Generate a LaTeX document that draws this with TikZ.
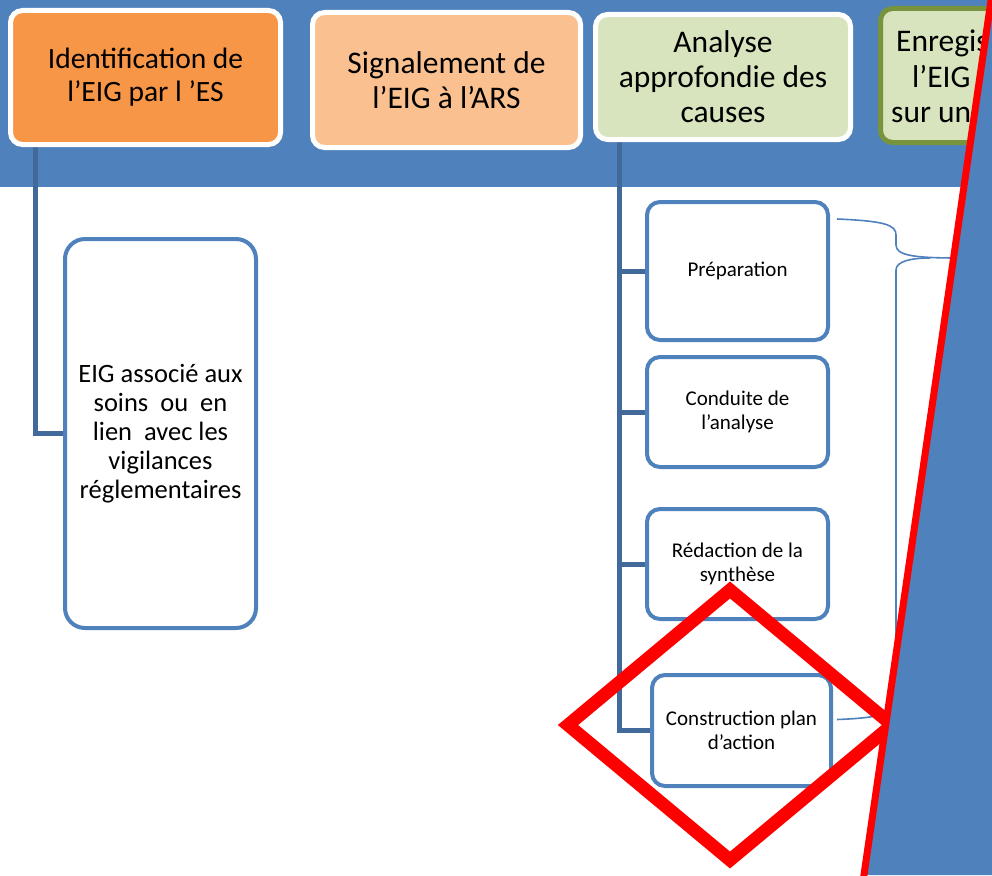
\documentclass[tikz,border=0pt]{standalone}
\usepackage{fontspec}
\setmainfont{Carlito}
\usetikzlibrary{calc,backgrounds}
\definecolor{band}{HTML}{4F81BD}
\definecolor{connc}{HTML}{41699A}
\definecolor{orangeA}{HTML}{F79646}
\definecolor{orangeB}{HTML}{FAC090}
\definecolor{greenA}{HTML}{D7E4BD}
\definecolor{olive}{HTML}{77933C}
\tikzset{
  topbox/.style={draw=white, line width=5pt, rounded corners=12pt, inner sep=0pt, align=center, font=\fontsize{31.5}{35}\selectfont},
  stepbox/.style={draw=band, line width=4pt, fill=white, rounded corners=13pt, inner sep=0pt, align=center, font=\fontsize{21}{24}\selectfont, minimum width=181pt},
  link/.style={draw=connc, line width=5pt},
  brace/.style={draw=band, line width=1.6pt},
  redmark/.style={draw=red, line width=13pt},
  toptext/.style={anchor=base west, inner sep=0pt, font=\fontsize{31.5}{35}\selectfont}
}
\begin{document}
\begin{tikzpicture}[x=1pt,y=-1pt]
\useasboundingbox (0,0) rectangle (992,875);
\begin{pgfonlayer}{background}
\fill[white] (0,0) rectangle (992,875);
\fill[band] (0,0) rectangle (992,187);
\end{pgfonlayer}
% top boxes
\node[topbox, fill=orangeA, minimum width=270pt, minimum height=134pt, font=\fontsize{29.5}{33}\selectfont] (a1) at (145.5,77.5) {Identification de\\l’EIG par l ’ES};
\node[topbox, fill=orangeB, minimum width=268pt, minimum height=135pt] (a2) at (446.5,80) {Signalement de\\l’EIG à l’ARS};
\node[topbox, fill=greenA, minimum width=255pt, minimum height=125pt] (a3) at (723,77) {Analyse\\approfondie des\\causes};
\node[draw=olive, fill=greenA, line width=5pt, rounded corners=12pt, inner sep=0pt, minimum width=260pt, minimum height=134pt] (a4) at (1010.5,75.5) {};
\node[toptext] (a4t1) at (896,52) {Enregis};
\node[toptext] (a4t2) at (912,87) {l’EIG};
\node[toptext] (a4t3) at (891,122) {sur un};
% left box
\node[stepbox, minimum width=191pt, minimum height=389pt, rounded corners=20pt, font=\fontsize{26.5}{29}\selectfont] (e) at (160.5,433.5) {EIG associé aux\\soins\ \ ou\ \ en\\lien\ \ avec les\\vigilances\\réglementaires};
% step boxes
\node[stepbox, minimum height=138pt] (c1) at (737.5,271) {Préparation};
\node[stepbox, minimum height=110pt] (c2) at (737.5,412) {Conduite de\\l’analyse};
\node[stepbox, minimum height=110pt] (c3) at (737.5,564) {Rédaction de la\\synthèse};
\node[stepbox, minimum width=179pt, minimum height=111pt] (c4) at (741.5,730.5) {Construction plan\\d’action};
% connectors (behind)
\coordinate (tl) at ($(a1.south west)+(27.5,0)$);
\coordinate (tk) at ($(a3.south west)+(26.5,0)$);
\begin{pgfonlayer}{background}
\draw[link] (tl) |- (e.west);
\draw[link] (tk) |- (c4.west);
\draw[link] (c1.west) -- (c1.west -| tk);
\draw[link] (c2.west) -- (c2.west -| tk);
\draw[link] (c3.west) -- (c3.west -| tk);
\end{pgfonlayer}
% brace
\coordinate (b1) at ($(c1.north east)+(7,19)$);
\coordinate (b2) at ($(c4.east)+(4,-11)$);
\coordinate (bt) at (958,258);
\coordinate (bm) at (930,258);
\draw[brace] (b1) .. controls (885,221) and (896,225) .. (896,235) -- (896,245) .. controls (896,255) and (912,258) .. (bt);
\draw[brace] (bm) .. controls (912,258) and (896,261) .. (896,270) -- (896,702) .. controls (896,713) and (880,718) .. (b2);
% red diamond
\draw[redmark] (730,590) -- (568,725) -- (730,860) -- (892,725) -- cycle;
% blue cover and red slash
\fill[band] (991,0) -- (1000,0) -- (1000,875) -- (864,875) -- cycle;
\draw[red, line width=7pt] (992.5,-10) -- (862.5,885);
\end{tikzpicture}
\end{document}
